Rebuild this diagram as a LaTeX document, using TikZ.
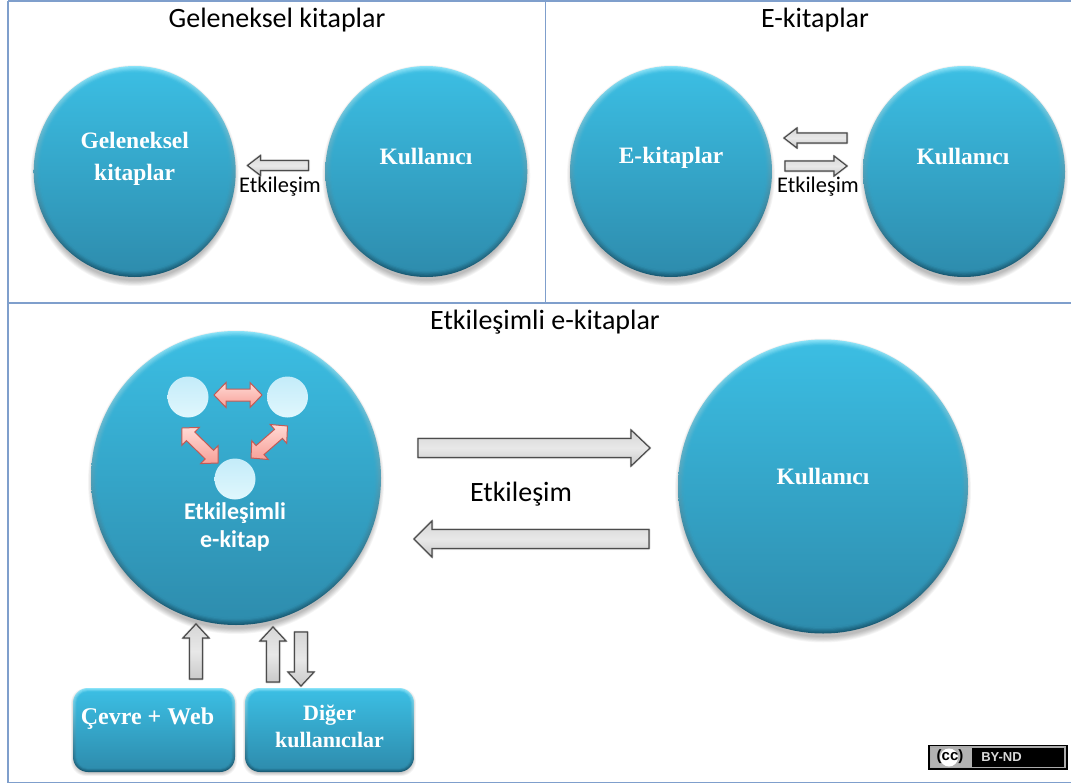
\documentclass[tikz,border=0pt]{standalone}
\usepackage{fontspec}
\setmainfont{Carlito}
\newfontfamily\serifb{Liberation Serif}
\newfontfamily\sansb{Liberation Sans}
\usetikzlibrary{shapes.geometric,calc}
\definecolor{mainT}{HTML}{3BBDE2}
\definecolor{mainB}{HTML}{2E8DAE}
\definecolor{rimT}{HTML}{8BE3F8}
\definecolor{rimB}{HTML}{175A74}
\definecolor{frameC}{HTML}{7F9FCC}
\definecolor{dotT}{HTML}{C4ECF9}
\definecolor{dotB}{HTML}{E0F7FD}
\definecolor{pinkT}{HTML}{FFDAD5}
\definecolor{pinkB}{HTML}{F8A098}
\definecolor{pinkL}{HTML}{C25A55}
\tikzset{
  framel/.style={draw=frameC,line width=1.4pt},
  title/.style={font=\fontsize{28}{32}\selectfont,text=black,inner sep=0pt},
  etk/.style={font=\fontsize{22.4}{24}\selectfont,text=black,inner sep=0pt},
  blab/.style={font=\serifb\bfseries\fontsize{23.5}{32}\selectfont,text=white,align=center,inner sep=0pt},
  clab/.style={font=\bfseries\fontsize{24}{28}\selectfont,text=white,align=center,inner sep=0pt},
  garrow/.style={draw=black!70,line width=1.2pt,line join=miter,top color=gray!32,bottom color=gray!42,middle color=gray!18},
  parrow/.style={draw=pinkL,line width=1pt,line join=miter,top color=pinkT,bottom color=pinkB},
  dot/.style={circle,inner sep=0pt,minimum size=41pt,top color=dotT,bottom color=dotB,draw=none}
}
% name, cx, cy, rx, ry
\newcommand{\bubble}[5]{%
  \foreach \s in {0,...,7}{\fill[black,opacity=.035] (#2,#3+4) ellipse [x radius=#4+3-.8*\s,y radius=#5+5-.8*\s];}
  \foreach \s/\p in {0/0,1/20,2/40,3/60,4/80,5/95}{%
    \path[top color=mainT!\p!rimT,bottom color=mainB!\p!rimB,draw=none]
      (#2,#3) ellipse [x radius=#4-\s*1.1,y radius=#5-\s*1.1];}
  \node[ellipse,inner sep=0pt,minimum width=2*#4-14,minimum height=2*#5-14,top color=mainT,bottom color=mainB,draw=none] (#1) at (#2,#3) {};
}
% name, x0,y0,x1,y1
\newcommand{\roundb}[5]{%
  \foreach \s in {0,...,5}{\fill[black,opacity=.04,rounded corners=15] (#2-2+.6*\s,#3+.6*\s) rectangle (#4+2-.6*\s,#5+4-.6*\s);}
  \foreach \s/\p in {0/0,1/30,2/60,3/90}{%
    \path[top color=mainT!\p!rimT,bottom color=mainB!\p!rimB,rounded corners=15-\s] (#2+\s,#3+\s) rectangle (#4-\s,#5-\s);}
  \node[rectangle,rounded corners=11,inner sep=0pt,minimum width=#4-#2-8,minimum height=#5-#3-8,top color=mainT,bottom color=mainB,draw=none] (#1) at ({(#2+#4)/2},{(#3+#5)/2}) {};
}
% name, tail x, tail y, tip x, tip y, shaft half, head half, head length
\newcommand{\blockarrow}[8]{%
  \coordinate (#1s) at (#2,#3);
  \coordinate (#1e) at (#4,#5);
  \coordinate (#1m) at ($(#1e)!#8pt!(#1s)$);
  \foreach \k/\o in {3/.07,2/.08,1/.1}{%
    \fill[black,opacity=\o,line width=\k pt,draw=black,draw opacity=\o,line join=round,shift={(0,2.5)}]
      ($(#1s)!#6pt!90:(#1e)$) -- ($(#1m)!#6pt!90:(#1e)$) -- ($(#1m)!#7pt!90:(#1e)$) -- (#1e)
      -- ($(#1m)!#7pt!-90:(#1e)$) -- ($(#1m)!#6pt!-90:(#1e)$) -- ($(#1s)!#6pt!-90:(#1e)$) -- cycle;}
  \path[garrow]
    ($(#1s)!#6pt!90:(#1e)$) -- ($(#1m)!#6pt!90:(#1e)$) -- ($(#1m)!#7pt!90:(#1e)$) -- (#1e)
    -- ($(#1m)!#7pt!-90:(#1e)$) -- ($(#1m)!#6pt!-90:(#1e)$) -- ($(#1s)!#6pt!-90:(#1e)$) -- cycle;
}
% name, end A x,y, end B x,y, shaft half, head half, head length
\newcommand{\doublearrow}[8]{%
  \coordinate (#1s) at (#2,#3);
  \coordinate (#1e) at (#4,#5);
  \coordinate (#1m) at ($(#1e)!#8pt!(#1s)$);
  \coordinate (#1n) at ($(#1s)!#8pt!(#1e)$);
  \path[parrow]
    (#1s) -- ($(#1n)!#7pt!90:(#1e)$) -- ($(#1n)!#6pt!90:(#1e)$) -- ($(#1m)!#6pt!90:(#1e)$)
    -- ($(#1m)!#7pt!90:(#1e)$) -- (#1e) -- ($(#1m)!#7pt!-90:(#1e)$) -- ($(#1m)!#6pt!-90:(#1e)$)
    -- ($(#1n)!#6pt!-90:(#1e)$) -- ($(#1n)!#7pt!-90:(#1e)$) -- cycle;
}
\begin{document}
\begin{tikzpicture}[x=1pt,y=-1pt]
\useasboundingbox (0,0) rectangle (1071,784);
\fill[white] (0,0) rectangle (1071,784);
% frame
\draw[framel] (8,1) -- (1071,1);
\draw[framel] (8,1) -- (8,782.5);
\draw[framel] (8,303) -- (1071,303);
\draw[framel] (8,782.5) -- (1071,782.5);
\draw[framel] (545.5,1) -- (545.5,303);
% titles
\node[title] (t1) at (277,20) {Geleneksel kitaplar};
\node[title] (t2) at (815,20) {E-kitaplar};
\node[title] (t3) at (545,322) {Etkileşimli e-kitaplar};
% circles
\bubble{gk}{134.7}{171.5}{101}{105.5}
\bubble{ku1}{426.3}{171.5}{101}{105.5}
\bubble{ek}{671}{171.5}{101}{105.5}
\bubble{ku2}{964}{171.5}{101}{105.5}
\bubble{ie}{236}{478}{145}{147}
\bubble{ku3}{823}{486.5}{145}{147}
% circle labels
\node[blab] (lgk) at (134.7,159) {Geleneksel\\kitaplar};
\node[blab] (lk1) at (426,156) {Kullanıcı};
\node[blab] (lek) at (671,158) {E-kitaplar};
\node[blab] (lk2) at (963,156) {Kullanıcı};
\node[blab] (lk3) at (823,476) {Kullanıcı};
\node[clab] (lie) at (235,527) {Etkileşimli\\e-kitap};
% small arrows
\blockarrow{a1}{308.5}{165.5}{247.5}{165.5}{5}{10}{13}
\blockarrow{a2}{847}{138}{784}{138}{5}{10}{13}
\blockarrow{a3}{785}{166}{847}{166}{5}{10}{13}
\node[etk] (e1) at (280,187) {Etkileşim};
\node[etk] (e2) at (818,187) {Etkileşim};
% big arrows
\blockarrow{a4}{418}{448}{650}{448}{9.5}{18}{19}
\blockarrow{a5}{649}{539}{414}{539}{9.5}{18}{18}
\node[title] (e3) at (521,494) {Etkileşim};
% inner dots
\node[dot] (d1) at (188,397) {};
\node[dot] (d2) at (287.5,397) {};
\node[dot] (d3) at (235,479) {};
\doublearrow{p1}{214}{395}{262}{395}{6}{12.5}{12}
\doublearrow{p2}{182}{428}{218}{463}{6}{12.5}{12}
\doublearrow{p3}{287.5}{426}{251}{458}{6}{12.5}{12}
% boxes
\roundb{b1}{73}{688}{235}{772}
\roundb{b2}{245}{688}{414}{772}
\node[blab,font=\serifb\bfseries\fontsize{24}{27}\selectfont] (lb1) at (147.5,719) {Çevre + Web};
\node[blab,font=\serifb\bfseries\fontsize{22}{27}\selectfont] (lb2) at (329.5,726) {Diğer\\kullanıcılar};
% vertical arrows
\blockarrow{u1}{196}{679}{196}{624}{6.5}{13}{14}
\blockarrow{u2}{273}{682}{273}{627}{6.5}{13}{14}
\blockarrow{u3}{301}{632}{301}{686}{6.5}{13}{14}
% licence badge
\fill[black] (928,744.5) rectangle (1067.5,770);
\draw[gray!65,line width=1.2pt] (930.5,747) rectangle (1065,767.5);
\fill[gray!60] (931,747.5) rectangle (972,767);
\fill[white] (949,757.5) circle (9);
\node[inner sep=0pt,font=\sansb\bfseries\fontsize{15}{15}\selectfont,text=black] (cc) at (950,757) {(cc)};
\node[inner sep=0pt,font=\sansb\bfseries\fontsize{13}{13}\selectfont,text=gray!30] (by) at (1001.5,757.5) {BY-ND};
\end{tikzpicture}
\end{document}
